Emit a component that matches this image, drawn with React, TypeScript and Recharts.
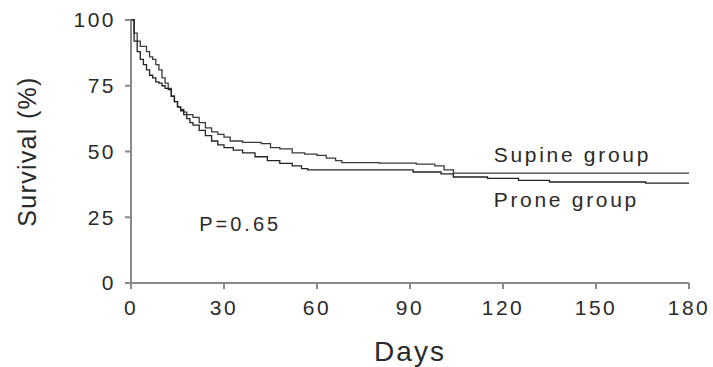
import React from 'react';
import { LineChart, Line, XAxis, YAxis, ReferenceDot } from 'recharts';

// Kaplan-Meier steps (day, survival %)
const supineDays = [0, 1, 2, 3, 5, 6, 7, 8, 9, 10, 11, 12, 13, 14, 15, 16, 17, 18, 20, 22, 24, 26, 28, 30, 32, 36, 42, 45, 48, 52, 56, 60, 63, 66, 68, 80, 92, 98, 101, 104, 180];
const supineSurv = [100, 95, 92, 90, 88, 86, 85, 83, 81, 78, 76, 74, 71, 69, 67, 66, 65, 64, 63, 61, 59, 57.5, 56.5, 55.5, 54, 53.5, 53, 51.5, 51, 49.5, 49, 48.5, 47.5, 46.5, 45.8, 45.6, 45.2, 44.5, 43, 41.8, 41.8];

const proneDays = [0, 1, 2, 3, 4, 5, 6, 7, 8, 9, 10, 11, 12, 13, 14, 15, 16, 17, 18, 19, 20, 22, 24, 26, 28, 30, 33, 36, 40, 44, 48, 52, 55, 57, 91, 100, 104, 115, 125, 135, 166, 180];
const proneSurv = [100, 92, 88, 85, 83, 81, 79, 78, 76.5, 76, 75, 74, 73.5, 71, 69, 67, 65.5, 64, 62.5, 61, 60, 58, 56, 54, 52.5, 51.5, 50.5, 49.5, 48, 46.5, 45.5, 44.5, 43.5, 43, 42.2, 41.5, 40.3, 39.8, 39, 38.4, 38, 38];

const xTicks = [0, 30, 60, 90, 120, 150, 180];
const yTicks = [0, 25, 50, 75, 100];

const supineData = supineDays.map((d, i) => ({ day: d, surv: supineSurv[i] }));
const proneData = proneDays.map((d, i) => ({ day: d, surv: proneSurv[i] }));

const FONT = '"Liberation Sans", Arial, Helvetica, sans-serif';
const AXIS = '#8a8a8a';
const INK = '#2a2a2a';

const noteLabel = (text: string, size: number, spacing: number) => (props: any) => {
  const { viewBox } = props;
  return (
    <text
      x={viewBox.x}
      y={viewBox.y}
      dy="0.35em"
      textAnchor="start"
      fontFamily={FONT}
      fontSize={size}
      letterSpacing={spacing}
      fill={INK}
    >
      {text}
    </text>
  );
};

const tickStyle = { fill: INK, fontSize: 21, fontFamily: FONT, letterSpacing: 2.5 };

export default function App() {
  return (
    <div style={{ position: 'absolute', left: 0, top: 0, background: '#fff' }}>
      <LineChart
        width={713}
        height={367}
        margin={{ top: 20, right: 24, left: 71, bottom: 24 }}
      >
        <XAxis
          dataKey="day"
          type="number"
          domain={[0, 180]}
          ticks={xTicks}
          allowDuplicatedCategory={false}
          stroke={AXIS}
          strokeWidth={2}
          tickSize={6}
          tickMargin={11}
          height={60}
          tick={tickStyle}
          label={{ value: 'Days', position: 'insideBottom', offset: -18, fill: INK, fontSize: 28, fontFamily: FONT, letterSpacing: 2 }}
        />
        <YAxis
          dataKey="surv"
          type="number"
          domain={[0, 100]}
          ticks={yTicks}
          stroke={AXIS}
          strokeWidth={2}
          tickSize={6}
          tickMargin={9}
          width={60}
          tick={tickStyle}
          label={{ value: 'Survival (%)', angle: -90, position: 'insideLeft', offset: -44, fill: INK, fontSize: 25, fontFamily: FONT, letterSpacing: 1.3, style: { textAnchor: 'middle' } }}
        />
        <Line
          data={supineData}
          dataKey="surv"
          type="stepAfter"
          stroke="#3a3a3a"
          strokeWidth={1.3}
          dot={false}
          isAnimationActive={false}
        />
        <Line
          data={proneData}
          dataKey="surv"
          type="stepAfter"
          stroke="#222"
          strokeWidth={1.3}
          dot={false}
          isAnimationActive={false}
        />
        <ReferenceDot x={22} y={22.5} r={0} ifOverflow="visible" label={noteLabel('P=0.65', 20, 3)} />
        <ReferenceDot x={117} y={48.9} r={0} ifOverflow="visible" label={noteLabel('Supine group', 21, 2.7)} />
        <ReferenceDot x={117} y={31.6} r={0} ifOverflow="visible" label={noteLabel('Prone group', 21, 2.7)} />
      </LineChart>
    </div>
  );
}
